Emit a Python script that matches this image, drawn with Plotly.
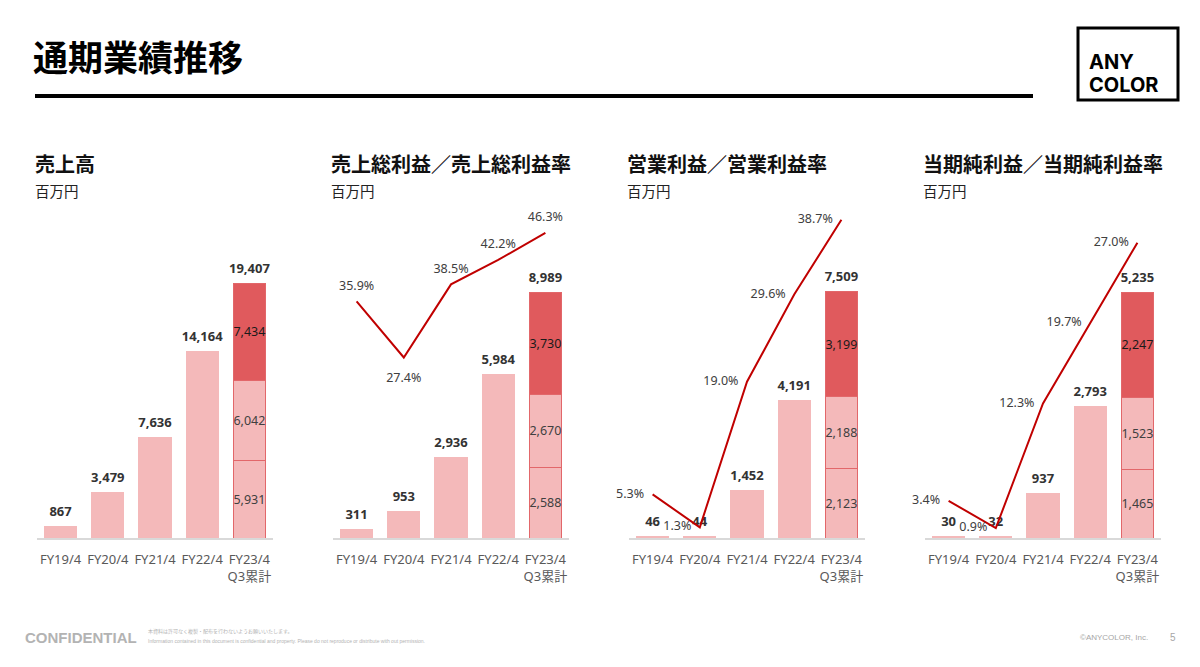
import plotly.graph_objects as go

# ---------------- data ----------------
categories = ["FY19/4", "FY20/4", "FY21/4", "FY22/4", "FY23/4<br>Q3累計"]

sales_annual = [867, 3479, 7636, 14164]
sales_q = [5931, 6042, 7434]          # FY23/4 Q1, Q2, Q3
sales_total = [867, 3479, 7636, 14164, 19407]

gp_annual = [311, 953, 2936, 5984]
gp_q = [2588, 2670, 3730]
gp_total = [311, 953, 2936, 5984, 8989]
gp_margin = [35.9, 27.4, 38.5, 42.2, 46.3]

op_annual = [46, 44, 1452, 4191]
op_q = [2123, 2188, 3199]
op_total = [46, 44, 1452, 4191, 7509]
op_margin = [5.3, 1.3, 19.0, 29.6, 38.7]

ni_annual = [30, 32, 937, 2793]
ni_q = [1465, 1523, 2247]
ni_total = [30, 32, 937, 2793, 5235]
ni_margin = [3.4, 0.9, 12.3, 19.7, 27.0]

panel_titles = ["売上高", "売上総利益／売上総利益率", "営業利益／営業利益率", "当期純利益／当期純利益率"]
unit_label = "百万円"
main_title = "通期業績推移"

# ---------------- styles ----------------
W, H = 1200, 667
PINK = "#f4b9ba"
DARK = "#e05a5d"
EDGE = "#e2676a"
LINE = "#c00000"
NUM_FONT = "Noto Sans, Open Sans, Noto Sans CJK JP, sans-serif"
JP_FONT = "Noto Sans CJK JP, Noto Sans, sans-serif"

def px_x(v):
    return v / W

def px_y(v):
    return 1 - v / H

Y_DOMAIN = [px_y(538), px_y(200)]

panels = [
    dict(annual=sales_annual, q=sales_q, total=sales_total, margin=None,
         xdom=(37, 273), title_x=33, bar_max=25724, line_max=None, lpos=None, msize=None),
    dict(annual=gp_annual, q=gp_q, total=gp_total, margin=gp_margin,
         xdom=(333, 569), title_x=329, bar_max=12351, line_max=51.3,
         lpos=["top center", "bottom center", "top center", "top center", "top center"],
         msize=[12, 22, 12, 12, 12]),
    dict(annual=op_annual, q=op_q, total=op_total, margin=op_margin,
         xdom=(629, 865), title_x=625, bar_max=10317, line_max=41.1,
         lpos=["middle left"] * 5, msize=[12] * 5),
    dict(annual=ni_annual, q=ni_q, total=ni_total, margin=ni_margin,
         xdom=(925, 1161), title_x=921, bar_max=7193, line_max=30.9,
         lpos=["middle left"] * 5, msize=[12] * 5),
]

fig = go.Figure()
layout_axes = {}
annotations = []
line_axis_no = 5

for i, p in enumerate(panels):
    n = i + 1
    xa = "x" if n == 1 else f"x{n}"
    ya = "y" if n == 1 else f"y{n}"
    xkey = "xaxis" if n == 1 else f"xaxis{n}"
    ykey = "yaxis" if n == 1 else f"yaxis{n}"

    base_vals = p["annual"] + [p["q"][0]]
    base_text = [""] * len(p["annual"]) + [f"{p['q'][0]:,}"]
    seg_font = dict(family=NUM_FONT, size=12.5, color="#404040")
    fig.add_trace(go.Bar(
        x=categories, y=base_vals, xaxis=xa, yaxis=ya,
        marker=dict(color=PINK, line=dict(color=[PINK] * 4 + [EDGE], width=1)),
        text=base_text, textposition="inside", insidetextanchor="middle",
        constraintext="none", textangle=0, insidetextfont=seg_font,
        hoverinfo="skip"))
    fig.add_trace(go.Bar(
        x=[categories[-1]], y=[p["q"][1]], xaxis=xa, yaxis=ya,
        marker=dict(color=PINK, line=dict(color=EDGE, width=1)),
        text=[f"{p['q'][1]:,}"], textposition="inside", insidetextanchor="middle",
        constraintext="none", textangle=0, insidetextfont=seg_font,
        hoverinfo="skip"))
    fig.add_trace(go.Bar(
        x=[categories[-1]], y=[p["q"][2]], xaxis=xa, yaxis=ya,
        marker=dict(color=DARK, line=dict(color=EDGE, width=1)),
        text=[f"{p['q'][2]:,}"], textposition="inside", insidetextanchor="middle",
        constraintext="none", textangle=0,
        insidetextfont=dict(family=NUM_FONT, size=12.5, color="#1a1a1a"),
        hoverinfo="skip"))
    # totals above bars
    fig.add_trace(go.Scatter(
        x=categories, y=p["total"], xaxis=xa, yaxis=ya, mode="markers+text",
        marker=dict(size=10, color="rgba(0,0,0,0)", line=dict(width=0)),
        text=[f"<b>{v:,}</b>" for v in p["total"]], textposition="top center",
        textfont=dict(family=NUM_FONT, size=13, color="#333333"),
        cliponaxis=False, hoverinfo="skip"))

    layout_axes[xkey] = dict(domain=[px_x(p["xdom"][0]), px_x(p["xdom"][1])], anchor=ya,
                             type="category", categoryorder="array", categoryarray=categories,
                             range=[-0.5, 4.5], showline=True, linecolor="#d9d9d9", linewidth=1.5,
                             showgrid=False, zeroline=False, ticks="", ticklabelstandoff=9,
                             tickangle=0,
                             tickfont=dict(family=NUM_FONT, size=13, color="#595959"),
                             fixedrange=True)
    layout_axes[ykey] = dict(domain=Y_DOMAIN, anchor=xa, range=[0, p["bar_max"]],
                             visible=False, fixedrange=True)

    if p["margin"] is not None:
        lya = f"y{line_axis_no}"
        lykey = f"yaxis{line_axis_no}"
        line_axis_no += 1
        fig.add_trace(go.Scatter(
            x=categories, y=p["margin"], xaxis=xa, yaxis=lya, mode="lines+markers+text",
            line=dict(color=LINE, width=2),
            marker=dict(size=p["msize"], color="rgba(0,0,0,0)", opacity=0,
                        line=dict(width=0, color="rgba(0,0,0,0)")),
            text=[f"{v:.1f}%" for v in p["margin"]], textposition=p["lpos"],
            textfont=dict(family=NUM_FONT, size=12.5, color="#404040"),
            cliponaxis=False, hoverinfo="skip"))
        layout_axes[lykey] = dict(overlaying=ya, anchor=xa, range=[0, p["line_max"]],
                                  visible=False, fixedrange=True)

    # panel headers
    annotations.append(dict(x=px_x(p["title_x"]), y=px_y(163), xref="paper", yref="paper",
                            xanchor="left", yanchor="middle", showarrow=False,
                            text=f"<b>{panel_titles[i]}</b>",
                            font=dict(family=JP_FONT, size=20, color="#111111")))
    annotations.append(dict(x=px_x(p["title_x"]), y=px_y(190), xref="paper", yref="paper",
                            xanchor="left", yanchor="middle", showarrow=False,
                            text=unit_label,
                            font=dict(family=JP_FONT, size=14.5, color="#222222")))

# main title
annotations.append(dict(x=px_x(31), y=px_y(56), xref="paper", yref="paper",
                        xanchor="left", yanchor="middle", showarrow=False,
                        text=f"<b>{main_title}</b>",
                        font=dict(family=JP_FONT, size=35, color="#000000")))
# logo text
annotations.append(dict(x=px_x(1087), y=px_y(62), xref="paper", yref="paper",
                        xanchor="left", yanchor="middle", showarrow=False,
                        text="<b>ANY</b>",
                        font=dict(family="Inter, Lato, sans-serif", size=20, color="#000000")))
annotations.append(dict(x=px_x(1087), y=px_y(85), xref="paper", yref="paper",
                        xanchor="left", yanchor="middle", showarrow=False,
                        text="<b>COLOR</b>",
                        font=dict(family="Inter, Lato, sans-serif", size=20, color="#000000")))
# footer
annotations.append(dict(x=px_x(23), y=px_y(637), xref="paper", yref="paper",
                        xanchor="left", yanchor="middle", showarrow=False,
                        text="<b>CONFIDENTIAL</b>",
                        font=dict(family="Liberation Sans, Arial, sans-serif", size=15, color="#b3b3b3")))
annotations.append(dict(x=px_x(146), y=px_y(631), xref="paper", yref="paper",
                        xanchor="left", yanchor="middle", showarrow=False,
                        text="本資料は許可なく複製・配布を行わないようお願いいたします。",
                        font=dict(family=JP_FONT, size=5, color="#b3b3b3")))
annotations.append(dict(x=px_x(146), y=px_y(641), xref="paper", yref="paper",
                        xanchor="left", yanchor="middle", showarrow=False,
                        text="Information contained in this document is confidential and property. Please do not reproduce or distribute with out permission.",
                        font=dict(family="Liberation Sans, Arial, sans-serif", size=5, color="#b3b3b3")))
annotations.append(dict(x=px_x(1150), y=px_y(637), xref="paper", yref="paper",
                        xanchor="right", yanchor="middle", showarrow=False,
                        text="©ANYCOLOR, Inc.",
                        font=dict(family="Liberation Sans, Arial, sans-serif", size=8, color="#a6a6a6")))
annotations.append(dict(x=px_x(1173), y=px_y(637), xref="paper", yref="paper",
                        xanchor="center", yanchor="middle", showarrow=False,
                        text="5",
                        font=dict(family="Liberation Sans, Arial, sans-serif", size=10, color="#a6a6a6")))

shapes = [
    dict(type="rect", xref="paper", yref="paper", x0=px_x(35), x1=px_x(1033),
         y0=px_y(98), y1=px_y(94), fillcolor="#000000", line=dict(width=0)),
    dict(type="rect", xref="paper", yref="paper", x0=px_x(1078), x1=px_x(1178),
         y0=px_y(100), y1=px_y(28), fillcolor="rgba(0,0,0,0)", line=dict(color="#000000", width=3)),
]

fig.update_layout(
    width=W, height=H, margin=dict(l=0, r=0, t=0, b=0),
    paper_bgcolor="white", plot_bgcolor="white",
    barmode="stack", bargap=0.32, showlegend=False,
    annotations=annotations, shapes=shapes, hovermode=False,
    **layout_axes)

fig.write_html("out.html", config={"displayModeBar": False},
               post_script="document.body.style.margin='0px';document.body.style.overflow='hidden';")
